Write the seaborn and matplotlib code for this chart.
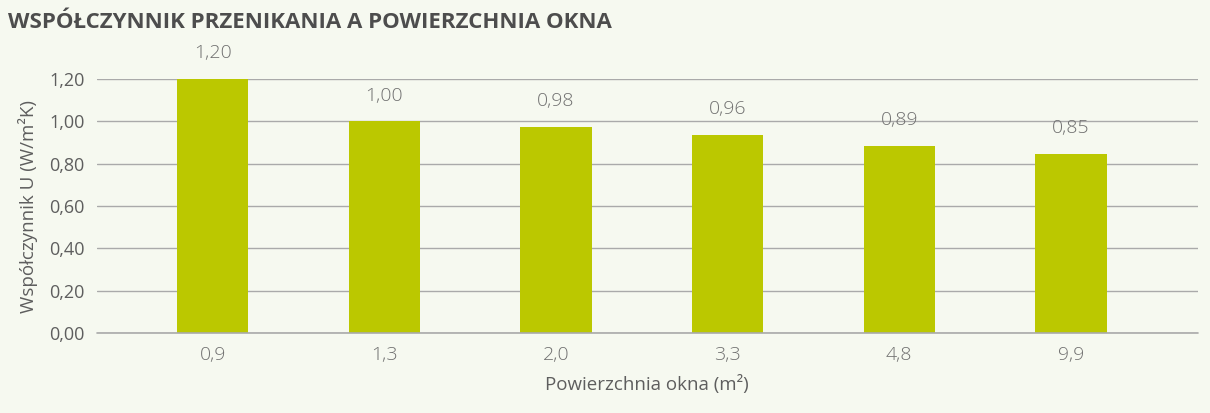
import pandas as pd
import matplotlib.pyplot as plt
import seaborn as sns

# chart data
area = ["0,9", "1,3", "2,0", "3,3", "4,8", "9,9"]
u_value = [1.20, 1.00, 0.975, 0.935, 0.885, 0.848]
value_labels = ["1,20", "1,00", "0,98", "0,96", "0,89", "0,85"]
y_ticks = [0.0, 0.2, 0.4, 0.6, 0.8, 1.0, 1.2]
y_tick_labels = ["0,00", "0,20", "0,40", "0,60", "0,80", "1,00", "1,20"]

bg = "#f6f9f0"
bar_color = "#bbc800"
text_color = "#5e5e5e"

sns.set_theme(style="white")
plt.rcParams["font.family"] = ["Open Sans", "DejaVu Sans"]

df = pd.DataFrame({"area": area, "u": u_value})

fig = plt.figure(figsize=(12.1, 4.13), dpi=100, facecolor=bg)
ax = fig.add_axes([0.080, 0.1937, 0.910, 0.615])
ax.set_facecolor(bg)

sns.barplot(data=df, x="area", y="u", color=bar_color, saturation=1,
            width=0.415, linewidth=0, ax=ax, zorder=3)

ax.bar_label(ax.containers[0], labels=value_labels, padding=12,
             fontsize=14, color="#707070", fontweight="light")

ax.set_xlim(-0.676, 5.74)
ax.set_ylim(0, 1.2)
ax.set_yticks(y_ticks)
ax.set_yticklabels(y_tick_labels)
ax.yaxis.grid(True, color="#aaaaaa", linewidth=1, zorder=0)
ax.set_axisbelow(True)
for s in ax.spines.values():
    s.set_visible(False)
# baseline drawn unclipped so it is not halved at the axes edge
ax.axhline(0, color="#aaaaaa", linewidth=1.2, clip_on=False, zorder=4)
ax.tick_params(axis="both", length=0, labelsize=13, labelcolor=text_color)
ax.tick_params(axis="x", pad=9)
ax.tick_params(axis="y", pad=9)
for lab in ax.get_xticklabels():
    lab.set_fontweight("light")
    lab.set_fontsize(14)
    lab.set_color("#707070")

ax.set_xlabel("Powierzchnia okna (m²)", fontsize=13.5, color=text_color, labelpad=8)
ax.set_ylabel("Współczynnik U (W/m²K)", fontsize=13.5, color=text_color, labelpad=8)

fig.text(0.007, 0.945, "WSPÓŁCZYNNIK PRZENIKANIA A POWIERZCHNIA OKNA",
         fontsize=16, fontweight="bold", color="#4d4d4d", va="center")

fig.savefig("out.png", dpi=100, facecolor=bg)
